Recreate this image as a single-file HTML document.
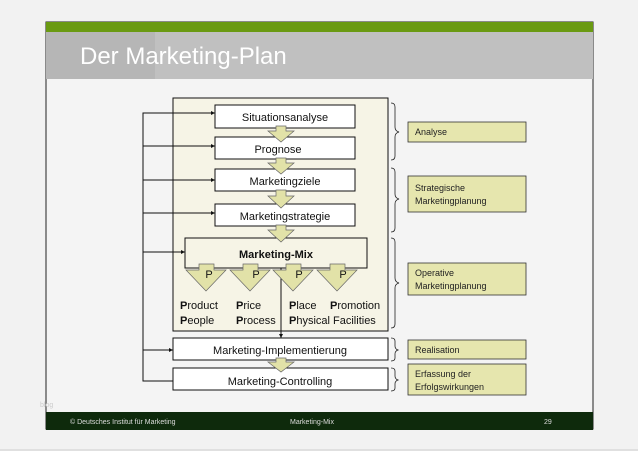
<!DOCTYPE html>
<html><head><meta charset="utf-8"><style>
html,body{margin:0;padding:0;background:#f2f2f2;}
svg{display:block;font-family:"Liberation Sans",sans-serif;}
</style></head><body>
<svg width="638" height="451" viewBox="0 0 638 451" xmlns="http://www.w3.org/2000/svg">
<rect x="0" y="0" width="638" height="451" fill="#f2f2f2"/>
<rect x="0" y="449" width="638" height="2" fill="#e0e0e0"/>
<rect x="46" y="22" width="547" height="407" fill="#f4f4f4" stroke="#222" stroke-width="1"/>
<rect x="46" y="22" width="547" height="10" fill="#6a9a12"/>
<rect x="46" y="32" width="547" height="47" fill="#b6b6b6"/>
<rect x="155" y="32" width="438" height="47" fill="#c4c4c4" opacity="0.7"/>
<text x="80" y="64" font-size="24" fill="#fff">Der Marketing-Plan</text>
<rect x="46" y="412" width="547" height="18" fill="#0e2a0c"/>
<text x="70" y="424" font-size="7" fill="#ddd">© Deutsches Institut für Marketing</text>
<text x="290" y="424" font-size="7" fill="#ddd">Marketing-Mix</text>
<text x="544" y="424" font-size="7" fill="#ddd">29</text>
<text x="40" y="407" font-size="7" fill="#ccc">blog</text>

<rect x="173" y="98" width="215" height="233" fill="#f6f4e6" stroke="#111"/>
<polyline points="173,381 143,381 143,113 215,113" fill="none" stroke="#111"/>
<g stroke="#111" fill="none">
<line x1="143" y1="146" x2="215" y2="146"/>
<line x1="143" y1="180" x2="215" y2="180"/>
<line x1="143" y1="213" x2="215" y2="213"/>
<line x1="143" y1="252" x2="185" y2="252"/>
<line x1="143" y1="350" x2="173" y2="350"/>
<line x1="281" y1="268" x2="281" y2="338"/>
</g>
<g fill="#111">
<polygon points="215,113 211,111 211,115"/>
<polygon points="215,146 211,144 211,148"/>
<polygon points="215,180 211,178 211,182"/>
<polygon points="215,213 211,211 211,215"/>
<polygon points="185,252 181,250 181,254"/>
<polygon points="173,350 169,348 169,352"/>
<polygon points="281,338 279,334 283,334"/>
</g>
<g fill="#fff" stroke="#111">
<rect x="215" y="105" width="140" height="23"/>
<rect x="215" y="137" width="140" height="22"/>
<rect x="215" y="169" width="140" height="22"/>
<rect x="215" y="204" width="140" height="22"/>
<rect x="173" y="338" width="215" height="22"/>
<rect x="173" y="368" width="215" height="22"/>
</g>
<rect x="185" y="238" width="182" height="30" fill="#f6f4e6" stroke="#111"/>
<g fill="#e2e2a8" stroke="#666" stroke-width="0.7">
<polygon points="276,126 286,126 286,131 294,131 281,142 268,131 276,131"/>
<polygon points="276,158 286,158 286,163 294,163 281,174 268,163 276,163"/>
<polygon points="276,190 286,190 286,196 294,196 281,208 268,196 276,196"/>
<polygon points="276,225 286,225 286,230 294,230 281,242 268,230 276,230"/>
<polygon points="276,358 286,358 286,362 294,362 281,372 268,362 276,362"/>
<polygon points="199,264 214,264 214,270 226,270 206,291 186,270 199,270"/>
<polygon points="243,264 258,264 258,270 270,270 250,291 230,270 243,270"/>
<polygon points="286,264 301,264 301,270 313,270 293,291 273,270 286,270"/>
<polygon points="330,264 345,264 345,270 357,270 337,291 317,270 330,270"/>
</g>
<g font-size="11" fill="#111" text-anchor="middle">
<text x="285" y="121">Situationsanalyse</text>
<text x="278" y="153">Prognose</text>
<text x="285" y="185">Marketingziele</text>
<text x="285" y="220">Marketingstrategie</text>
<text x="276" y="258" font-weight="bold">Marketing-Mix</text>
<text x="209" y="278">P</text><text x="256" y="278">P</text><text x="299" y="278">P</text><text x="343" y="278">P</text>
<text x="280" y="354">Marketing-Implementierung</text>
<text x="280" y="385">Marketing-Controlling</text>
</g>
<g font-size="11" fill="#111">
<text x="180" y="309"><tspan font-weight="bold">P</tspan>roduct</text>
<text x="180" y="324"><tspan font-weight="bold">P</tspan>eople</text>
<text x="236" y="309"><tspan font-weight="bold">P</tspan>rice</text>
<text x="236" y="324"><tspan font-weight="bold">P</tspan>rocess</text>
<text x="289" y="309"><tspan font-weight="bold">P</tspan>lace</text>
<text x="330" y="309"><tspan font-weight="bold">P</tspan>romotion</text>
<text x="289" y="324"><tspan font-weight="bold">P</tspan>hysical Facilities</text>
</g>
<g fill="none" stroke="#222" stroke-width="0.8">
<path d="M391,103 q4,0 4,4 v20 q0,4 4,5 q-4,1 -4,5 v19 q0,4 -4,4"/>
<path d="M391,168 q4,0 4,4 v22 q0,4 4,5 q-4,1 -4,5 v24 q0,4 -4,4"/>
<path d="M391,238 q4,0 4,4 v36 q0,4 4,5 q-4,1 -4,5 v36 q0,4 -4,4"/>
<path d="M391,338 q4,0 4,3 v5 q0,3 3,4 q-3,1 -3,4 v4 q0,3 -4,3"/>
<path d="M391,368 q4,0 4,3 v5 q0,3 3,4 q-3,1 -3,4 v4 q0,3 -4,3"/>
</g>
<g fill="#e6e6ae" stroke="#333" stroke-width="0.8">
<rect x="408" y="122" width="118" height="20"/>
<rect x="408" y="176" width="118" height="36"/>
<rect x="408" y="263" width="118" height="32"/>
<rect x="408" y="340" width="118" height="19"/>
<rect x="408" y="364" width="118" height="31"/>
</g>
<g font-size="9" fill="#222">
<text x="415" y="135">Analyse</text>
<text x="415" y="191">Strategische</text><text x="415" y="204">Marketingplanung</text>
<text x="415" y="276">Operative</text><text x="415" y="289">Marketingplanung</text>
<text x="415" y="353">Realisation</text>
<text x="415" y="377">Erfassung der</text><text x="415" y="390">Erfolgswirkungen</text>
</g>
</svg>
</body></html>
